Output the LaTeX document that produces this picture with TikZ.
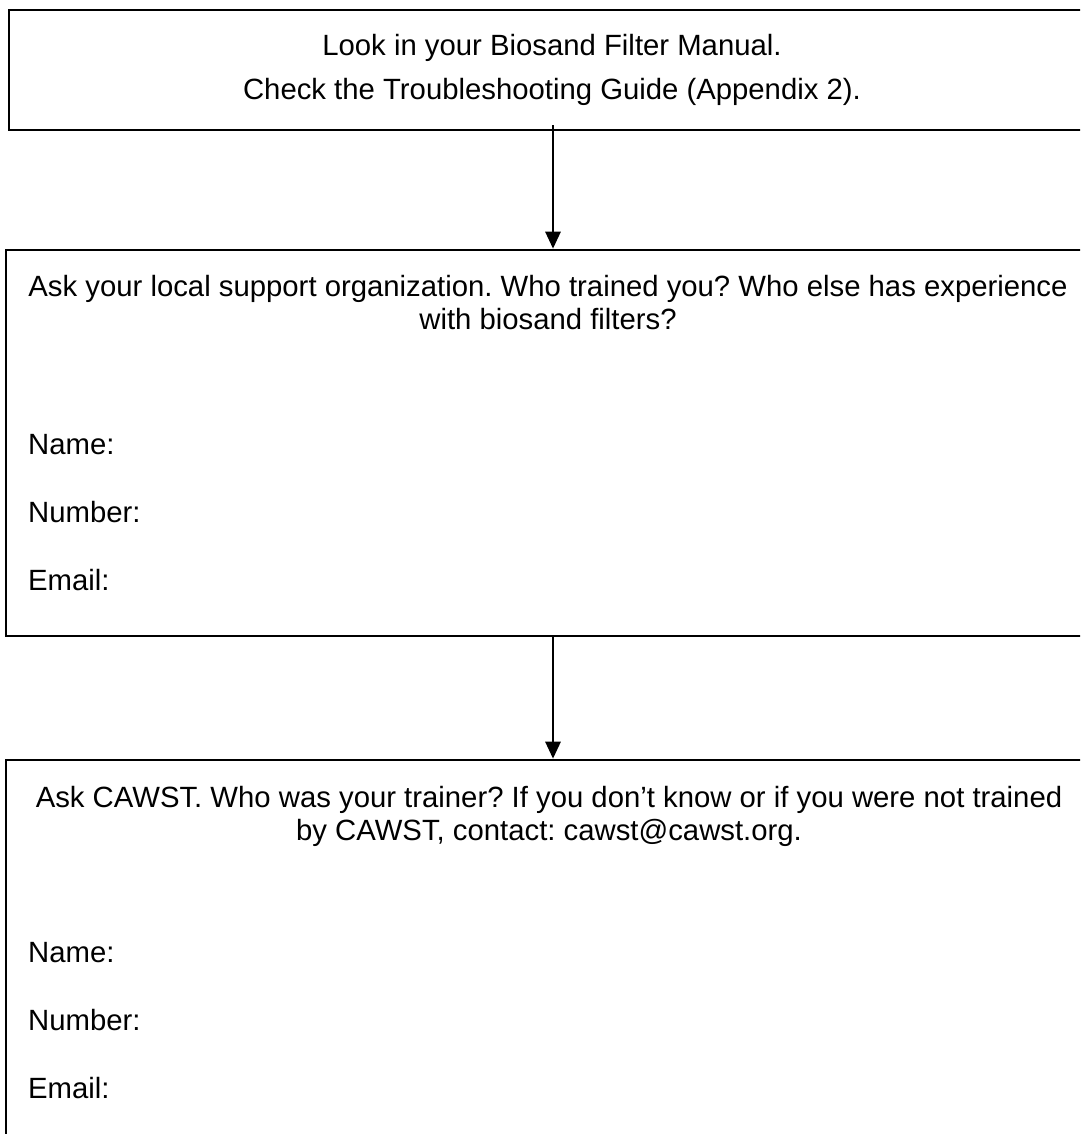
\documentclass[tikz,border=0pt]{standalone}
\usepackage{fontspec}
\setmainfont{Liberation Sans}
\frenchspacing
\usetikzlibrary{arrows.meta,positioning}

\begin{document}
\begin{tikzpicture}[x=1pt, y=-1pt,
		box/.style={draw, line width=2.6pt, rectangle, inner sep=0pt},
		txt/.style={anchor=base, font=\fontsize{29.3}{33}\selectfont, inner sep=0pt},
		field/.style={anchor=base west, font=\fontsize{29.3}{33}\selectfont, inner sep=0pt},
		flow/.style={-{Triangle[width=15pt,length=17pt]}, line width=2.8pt}]

		% --- Frame ---
		\useasboundingbox (0,0) rectangle (1080,1134);
		\clip (0,0) rectangle (1080,1134);

		% --- Boxes ---
		\node[box, minimum width=1088pt, minimum height=120pt] (manual) at (553,70) {};
		\node[box, minimum width=1094pt, minimum height=386pt] (local) at (553,443) {};
		\node[box, minimum width=1094pt, minimum height=400pt] (cawst) at (553,960) {};

		% --- Texts ---
		\node[txt] (manualA) at (552,56) {Look in your Biosand Filter Manual.};
		\node[txt] (manualB) at (552,100) {Check the Troubleshooting Guide (Appendix 2).};

		\node[txt] (localA) at (548,296) {Ask your local support organization. Who trained you? Who else has experience};
		\node[txt] (localB) at (548,329) {with biosand filters?};

		\node[txt] (cawstA) at (549,807) {Ask CAWST. Who was your trainer? If you don’t know or if you were not trained};
		\node[txt] (cawstB) at (549,840) {by CAWST, contact: cawst@cawst.org.};

		% Name / Number / Email lines
		\foreach \f/\y in {Name/454, Number/522, Email/590} {
			\node[field] (local\f) at (28,\y) {\f:};
			\node[field] (cawst\f) at (28,\y+508) {\f:};
		}

		% --- Arrows ---
		\draw[flow] ([yshift=6pt]manual.south) -- (local.north);
		\draw[flow] (local.south) -- (cawst.north);

	\end{tikzpicture}
\end{document}
